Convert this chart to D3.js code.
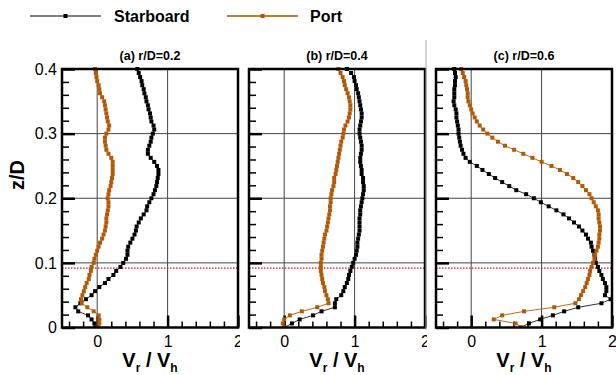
<!DOCTYPE html>
<html><head><meta charset="utf-8">
<script src="https://cdn.jsdelivr.net/npm/d3@7"></script>
<style>body{margin:0;background:#fff}svg{display:block;font-family:"Liberation Sans",Arial,sans-serif}</style>
</head><body><svg id="c" width="616" height="375"></svg>
<script>
const zLevels = [0,.0063,.0125,.0188,.025,.0313,.0375,.0438,.05,.0563,.0625,.0688,.075,.0813,.0875,.0938,.1,.1063,.1125,.1188,.125,.1313,.1375,.1438,.15,.1563,.1625,.1688,.175,.1813,.1875,.1938,.2,.2063,.2125,.2188,.225,.2313,.2375,.2438,.25,.2563,.2625,.2688,.275,.2813,.2875,.2938,.3,.3063,.3125,.3188,.325,.3313,.3375,.3438,.35,.3563,.3625,.3688,.375,.3813,.3875,.3938,.4];
const panelTitles = ["(a) r/D=0.2","(b) r/D=0.4","(c) r/D=0.6"];
const seriesNames = ["Starboard","Port"];
const starboardA = [-0.03,-0.04,-0.08,-0.13,-0.27,-0.31,-0.24,-0.16,-0.08,-0.03,0.03,0.11,0.16,0.23,0.27,0.33,0.37,0.41,0.43,0.43,0.44,0.47,0.50,0.53,0.55,0.56,0.59,0.62,0.66,0.70,0.71,0.74,0.77,0.80,0.82,0.84,0.85,0.86,0.87,0.87,0.85,0.81,0.76,0.72,0.72,0.74,0.76,0.77,0.79,0.81,0.80,0.77,0.76,0.75,0.73,0.72,0.70,0.69,0.67,0.66,0.64,0.63,0.61,0.59,0.57];
const portA = [0.02,0.03,0.03,0.02,-0.05,-0.14,-0.22,-0.23,-0.21,-0.19,-0.17,-0.15,-0.12,-0.11,-0.09,-0.08,-0.05,-0.04,-0.02,0.0,0.02,0.04,0.07,0.09,0.11,0.12,0.13,0.13,0.14,0.15,0.16,0.16,0.15,0.16,0.17,0.19,0.20,0.21,0.22,0.22,0.22,0.22,0.20,0.16,0.13,0.12,0.11,0.11,0.13,0.16,0.17,0.15,0.14,0.13,0.12,0.11,0.10,0.07,0.04,0.03,0.02,0.0,-0.01,-0.02,-0.03];
const starboardB = [0.0,0.11,0.22,0.41,0.53,0.72,0.72,0.74,0.81,0.84,0.86,0.89,0.91,0.92,0.94,0.96,0.98,1.00,1.02,1.03,1.04,1.04,1.05,1.06,1.07,1.07,1.07,1.07,1.08,1.08,1.09,1.10,1.11,1.12,1.13,1.13,1.12,1.12,1.10,1.10,1.09,1.08,1.08,1.09,1.10,1.10,1.09,1.08,1.07,1.07,1.08,1.09,1.10,1.10,1.09,1.08,1.07,1.06,1.05,1.03,1.02,1.00,0.99,0.95,0.89];
const portB = [0.0,-0.02,0.0,0.08,0.25,0.47,0.63,0.62,0.60,0.58,0.57,0.55,0.54,0.53,0.52,0.52,0.52,0.53,0.53,0.54,0.55,0.56,0.57,0.58,0.60,0.61,0.62,0.63,0.64,0.65,0.65,0.66,0.66,0.67,0.68,0.70,0.71,0.71,0.73,0.74,0.75,0.76,0.77,0.78,0.79,0.80,0.81,0.83,0.84,0.85,0.87,0.90,0.92,0.93,0.94,0.94,0.93,0.92,0.90,0.88,0.86,0.85,0.83,0.80,0.77];
const starboardC = [0.70,0.82,0.98,1.16,1.32,1.52,1.85,1.98,1.90,1.92,1.92,1.90,1.87,1.85,1.82,1.80,1.77,1.76,1.75,1.73,1.71,1.70,1.66,1.63,1.58,1.53,1.46,1.39,1.31,1.21,1.10,0.99,0.89,0.78,0.64,0.54,0.44,0.34,0.25,0.16,0.08,-0.02,-0.08,-0.11,-0.13,-0.15,-0.16,-0.17,-0.18,-0.18,-0.19,-0.20,-0.21,-0.21,-0.22,-0.24,-0.25,-0.24,-0.24,-0.24,-0.23,-0.23,-0.22,-0.23,-0.24];
const portC = [0.72,0.63,0.32,0.44,0.75,1.18,1.48,1.53,1.56,1.59,1.62,1.64,1.66,1.68,1.69,1.71,1.73,1.75,1.76,1.78,1.80,1.81,1.82,1.82,1.83,1.83,1.82,1.81,1.81,1.80,1.77,1.74,1.71,1.68,1.63,1.58,1.52,1.45,1.36,1.26,1.14,1.00,0.87,0.74,0.61,0.48,0.38,0.30,0.23,0.17,0.12,0.08,0.05,0.02,0.0,-0.02,-0.04,-0.05,-0.05,-0.06,-0.07,-0.08,-0.10,-0.12,-0.14];
const xTickLabels = [0,1,2];
const yTickLabels = [0,0.1,0.2,0.3,0.4];
const refLine = 0.092;

const panels = [[starboardA,portA],[starboardB,portB],[starboardC,portC]];
const colors = {Starboard:"#000", Port:"#b05a08"};
const lineColors = {Starboard:"#333", Port:"#b86a1e"};
const legendColors = {Starboard:"#808080", Port:"#c87a30"};

const svg = d3.select("#c");
const W = 176, yTop = 69, yBot = 327.5;
const lefts = [62,249,436];
const y = d3.scaleLinear().domain([0,0.4]).range([yBot, yTop]);

const leg = [{n:"Starboard", x1:30, x2:101, tx:114},{n:"Port", x1:227, x2:298, tx:310}];
leg.forEach(l=>{
  svg.append("line").attr("x1",l.x1).attr("x2",l.x2).attr("y1",16).attr("y2",16).attr("stroke",legendColors[l.n]).attr("stroke-width",2);
  svg.append("rect").attr("x",(l.x1+l.x2)/2-2).attr("y",14).attr("width",4).attr("height",4).attr("fill",colors[l.n]);
  svg.append("text").attr("x",l.tx).attr("y",22).attr("font-size",16).attr("font-weight","bold").text(l.n);
});

panels.forEach((ser,pi)=>{
  const x0 = lefts[pi];
  const x = d3.scaleLinear().domain([-0.5,2]).range([x0, x0+W]);
  const g = svg.append("g");
  g.append("rect").attr("x", pi===0? x0-60 : x0-9).attr("y",62).attr("width", pi===0? W+62 : W+11).attr("height",290).attr("fill","#fff");
  if(pi===2) g.append("line").attr("x1",x0-10).attr("x2",x0-10).attr("y1",40).attr("y2",330).attr("stroke","#aaa").attr("stroke-width",1);
  g.append("text").attr("x",x0+W/2).attr("y",60).attr("text-anchor","middle").attr("font-size",12.5).attr("font-weight","bold").text(panelTitles[pi]);
  const grid = g.append("g").attr("stroke","#444").attr("stroke-width",1);
  [0,1].forEach(v=>grid.append("line").attr("x1",x(v)).attr("x2",x(v)).attr("y1",yTop).attr("y2",yBot));
  [0.1,0.2,0.3].forEach(v=>grid.append("line").attr("x1",x0).attr("x2",x0+W).attr("y1",y(v)).attr("y2",y(v)));
  g.append("line").attr("x1",x0).attr("x2",x0+W).attr("y1",y(refLine)).attr("y2",y(refLine))
   .attr("stroke","#e01010").attr("stroke-width",1.2).attr("stroke-dasharray","1.5,1.5");
  const yMinor = d3.range(0,0.401,0.02).filter(v=>Math.abs(v*10-Math.round(v*10))>1e-6);
  const ayMin = g.append("g").attr("transform",`translate(${x0},0)`).call(d3.axisLeft(y).tickValues(yMinor).tickSize(-7).tickFormat(""));
  const ayMaj = g.append("g").attr("transform",`translate(${x0},0)`).call(d3.axisLeft(y).tickValues(yTickLabels).tickSize(-13).tickFormat(""));
  const xMinor = [-0.4,-0.2,0.2,0.4,0.6,0.8,1.2,1.4,1.6,1.8];
  const axMin = g.append("g").attr("transform",`translate(0,${yBot})`).call(d3.axisBottom(x).tickValues(xMinor).tickSize(-6).tickFormat(""));
  const axMaj = g.append("g").attr("transform",`translate(0,${yBot})`).call(d3.axisBottom(x).tickValues(xTickLabels).tickSize(-12).tickPadding(8).tickFormat(d3.format("d")));
  [ayMin,ayMaj,axMin,axMaj].forEach(a=>{a.select(".domain").remove(); a.selectAll("line").attr("stroke","#000").attr("stroke-width",1.5);});
  ayMaj.selectAll("line").attr("stroke-width",2.5);
  axMaj.selectAll("line").attr("stroke-width",2.5);
  axMaj.selectAll("text").attr("font-size",16).attr("font-family","'Liberation Sans',Arial,sans-serif").attr("fill","#000");
  if(pi===0){
    const lab = g.append("g").attr("transform",`translate(${x0},0)`).call(d3.axisLeft(y).tickValues(yTickLabels).tickSize(0).tickPadding(5).tickFormat(d=>d===0?"0":d3.format(".1f")(d)));
    lab.select(".domain").remove();
    lab.selectAll("text").attr("font-size",16).attr("font-family","'Liberation Sans',Arial,sans-serif").attr("fill","#000");
  }
  const clipId = "clip"+pi;
  svg.append("clipPath").attr("id",clipId).append("rect").attr("x",x0).attr("y",yTop-3).attr("width",W).attr("height",yBot-yTop+3);
  const dg = g.append("g").attr("clip-path",`url(#${clipId})`);
  ser.forEach((vals,si)=>{
    const name = seriesNames[si];
    const pts = vals.map((v,i)=>({v, z:zLevels[i]}));
    dg.append("path").datum(pts).attr("fill","none").attr("stroke",lineColors[name]).attr("stroke-width",1)
      .attr("d", d3.line().x(d=>x(d.v)).y(d=>y(d.z)));
    dg.selectAll(null).data(pts).enter().append("rect")
      .attr("x",d=>x(d.v)-2).attr("y",d=>y(d.z)-2).attr("width",4).attr("height",4).attr("fill",colors[name]);
  });
  g.append("rect").attr("x",x0).attr("y",yTop).attr("width",W).attr("height",yBot-yTop).attr("fill","none").attr("stroke","#000").attr("stroke-width",2.5);
  const xl = g.append("text").attr("x",x0+W/2).attr("y",367).attr("text-anchor","middle").attr("font-size",20).attr("font-weight","bold");
  xl.append("tspan").text("V");
  xl.append("tspan").attr("font-size",12).attr("dy",5).text("r");
  xl.append("tspan").attr("dy",-5).text(" / V");
  xl.append("tspan").attr("font-size",12).attr("dy",5).text("h");
});
svg.append("text").attr("transform","translate(24,175) rotate(-90)").attr("text-anchor","middle").attr("font-size",20).attr("font-weight","bold").text("z/D");
</script></body></html>
